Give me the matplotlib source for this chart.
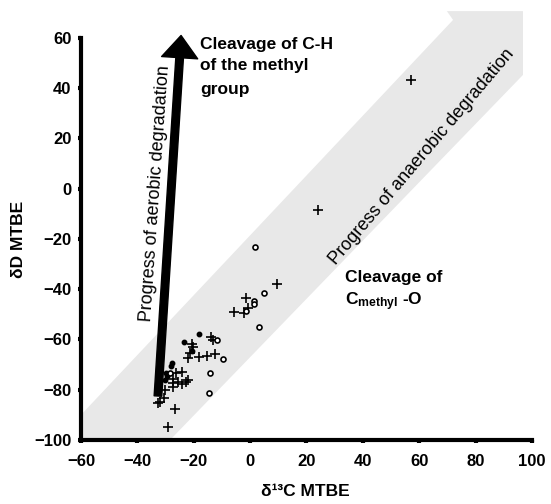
import matplotlib
matplotlib.use("Agg")
import matplotlib.pyplot as plt
from matplotlib.patches import Polygon

plt.rcParams["font.family"] = ["Liberation Sans", "DejaVu Sans"]
plt.rcParams["mathtext.fontset"] = "custom"
plt.rcParams["mathtext.rm"] = "Liberation Sans:bold"
plt.rcParams["mathtext.it"] = "Liberation Sans:bold"
plt.rcParams["mathtext.bf"] = "Liberation Sans:bold"

# d13C / dD of MTBE
cross_c = [57.1, 24.1, 9.5, -1.5, -0.8, -5.7, -2.2, -13.9, -13.2, -20.6, -20.3, -21.3,
           -22.0, -18.1, -15.3, -12.5, -26.3, -24.2, -27.4, -27.4, -25.6, -22.7, -22.0,
           -27.4, -24.2, -30.2, -32.0, -30.6, -32.7, -26.7, -29.1]
cross_d = [43.3, -8.5, -37.9, -43.5, -47.5, -49.1, -49.5, -59.0, -60.2, -61.8, -63.0, -65.4,
           -67.4, -67.0, -66.6, -65.8, -73.3, -72.9, -75.7, -77.3, -76.9, -76.9, -76.1,
           -78.9, -77.7, -80.1, -84.9, -83.3, -85.3, -87.7, -94.8]

dot_c = [-18.1, -23.5, -20.6, -27.7, -28.1, -29.8, -29.5, -30.2]
dot_d = [-57.8, -61.0, -64.6, -69.4, -70.5, -73.3, -74.5, -76.1]

ring_c = [1.7, 4.9, 1.4, 1.4, -1.5, 3.2, -11.7, -9.6, -28.4, -14.2, -14.6]
ring_d = [-23.2, -41.5, -44.7, -45.9, -48.7, -55.0, -60.2, -67.8, -73.3, -73.3, -81.3]

band_x = [-60, -28.4, 96.8, 96.8, 69.8, 72.0, -60]
band_y = [-100, -100, 45.3, 70.7, 70.7, 67.2, -90.0]

aerobic_lines = ["Cleavage of C-H", "of the methyl", "group"]
aerobic_y = [55.6, 47.3, 37.7]

xticks = [-60, -40, -20, 0, 20, 40, 60, 80, 100]
yticks = [-100, -80, -60, -40, -20, 0, 20, 40, 60]

fig = plt.figure(figsize=(5.51, 5.04), dpi=100)
ax = fig.add_axes([0.147, 0.127, 0.8185, 0.7976])

band = Polygon(list(zip(band_x, band_y)), closed=True, facecolor="#e8e8e8",
               edgecolor="none", zorder=0, clip_on=False)
ax.add_patch(band)

ax.plot(cross_c, cross_d, linestyle="none", marker="+", color="black", ms=7.5, mew=1.2, zorder=3)
ax.plot(dot_c, dot_d, linestyle="none", marker="o", color="black", ms=3.2, zorder=3)
ax.plot(ring_c, ring_d, linestyle="none", marker="o", mfc="white", mec="black",
        ms=3.6, mew=1.2, zorder=3)

# aerobic arrow
ax.annotate("", xy=(-24.5, 61), xytext=(-32.7, -82.5),
            arrowprops=dict(width=5.5, headwidth=26, headlength=16, facecolor="black",
                            edgecolor="black"), annotation_clip=False, zorder=4)

for line, y in zip(aerobic_lines, aerobic_y):
    ax.text(-17.8, y, line, fontsize=12.5, fontweight="bold", ha="left", va="baseline",
            clip_on=False)
ax.text(33.7, -37.1, "Cleavage of", fontsize=12.5, fontweight="bold", ha="left", va="baseline")
ax.text(33.7, -46.3, r"C$_{\mathrm{methyl}}$ -O", fontsize=12.5, fontweight="bold",
        ha="left", va="baseline")
ax.text(-33.7, -1.7, "Progress of aerobic degradation", fontsize=13, rotation=86,
        ha="center", va="center", rotation_mode="anchor")
ax.text(61.0, 12.6, "Progress of anaerobic degradation", fontsize=13, rotation=49.8,
        ha="center", va="center", rotation_mode="anchor")

ax.set_xlim(-60, 100)
ax.set_ylim(-100, 60)
ax.set_xticks(xticks)
ax.set_yticks(yticks)
for lab in ax.get_xticklabels() + ax.get_yticklabels():
    lab.set_fontweight("bold")
    lab.set_fontsize(12)
ax.tick_params(length=2, width=3)
ax.tick_params(axis="x", pad=8)
ax.tick_params(axis="y", pad=5)
for s in ["top", "right"]:
    ax.spines[s].set_visible(False)
for s in ["left", "bottom"]:
    ax.spines[s].set_linewidth(3)

fig.text(0.555, 0.024, "δ¹³C MTBE", fontsize=12.5, fontweight="bold", ha="center", va="center")
fig.text(0.033, 0.524, "δD MTBE", fontsize=12.5, fontweight="bold", ha="center", va="center",
         rotation=90)

fig.savefig("out.png", dpi=100)
